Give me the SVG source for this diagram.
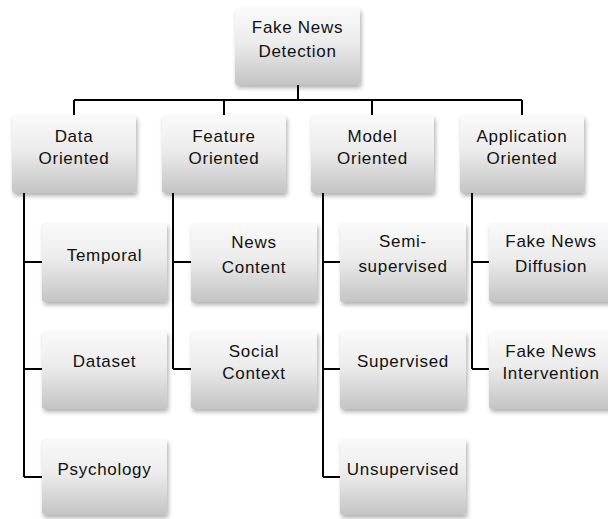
<svg xmlns="http://www.w3.org/2000/svg" width="608" height="519" viewBox="0 0 608 519">
<defs>
<linearGradient id="g" x1="0" y1="0" x2="0" y2="1">
<stop offset="0" stop-color="#fafafa"/>
<stop offset="0.45" stop-color="#ececec"/>
<stop offset="1" stop-color="#c4c4c4"/>
</linearGradient>
<filter id="sh" x="-10%" y="-10%" width="125%" height="130%">
<feDropShadow dx="1.5" dy="3" stdDeviation="2" flood-color="#000" flood-opacity="0.3"/>
</filter>
</defs>
<style>
.box{fill:url(#g);filter:url(#sh);}
text{font-family:"Liberation Sans",Arial,sans-serif;font-size:17px;letter-spacing:0.7px;fill:#111;text-anchor:middle;}
.c{fill:none;stroke:#000;stroke-width:2;}
</style>
<rect width="608" height="519" fill="#fff"/>
<g id="connectors">
<path class="c" d="M298,85V100M74,100H522M74,100V115M224,100V115M372,100V115M522,100V115"/>
<path class="c" d="M24,193V477M24,262H42M24,369H42M24,477H42"/>
<path class="c" d="M173,193V369M173,262H191M173,369H191"/>
<path class="c" d="M323,193V477M323,262H340M323,369H340M323,477H340"/>
<path class="c" d="M472,193V369M472,262H489M472,369H489"/>
</g>
<g id="root"><rect class="box" x="235" y="8" width="125" height="77" rx="3"/><text x="297.5" y="33">Fake News</text><text x="297.5" y="57">Detection</text></g>
<g id="data"><rect class="box" x="12" y="115" width="124" height="78" rx="3"/><text x="74" y="142">Data</text><text x="74" y="164">Oriented</text></g>
<g id="feature"><rect class="box" x="162" y="115" width="124" height="78" rx="3"/><text x="224" y="142">Feature</text><text x="224" y="164">Oriented</text></g>
<g id="model"><rect class="box" x="311" y="115" width="123" height="78" rx="3"/><text x="372.5" y="142">Model</text><text x="372.5" y="164">Oriented</text></g>
<g id="application"><rect class="box" x="460" y="115" width="124" height="78" rx="3"/><text x="522" y="142">Application</text><text x="522" y="164">Oriented</text></g>
<g id="temporal"><rect class="box" x="42" y="223" width="125" height="79" rx="3"/><text x="104.5" y="261">Temporal</text></g>
<g id="dataset"><rect class="box" x="42" y="331" width="125" height="78" rx="3"/><text x="104.5" y="367">Dataset</text></g>
<g id="psychology"><rect class="box" x="42" y="439" width="125" height="76" rx="3"/><text x="104.5" y="475">Psychology</text></g>
<g id="news-content"><rect class="box" x="191" y="223" width="126" height="79" rx="3"/><text x="254" y="248">News</text><text x="254" y="273">Content</text></g>
<g id="social-context"><rect class="box" x="191" y="331" width="126" height="78" rx="3"/><text x="254" y="357">Social</text><text x="254" y="379">Context</text></g>
<g id="semi"><rect class="box" x="340" y="223" width="126" height="79" rx="3"/><text x="403" y="247">Semi-</text><text x="403" y="272">supervised</text></g>
<g id="supervised"><rect class="box" x="340" y="331" width="126" height="78" rx="3"/><text x="403" y="367">Supervised</text></g>
<g id="unsupervised"><rect class="box" x="340" y="439" width="126" height="76" rx="3"/><text x="403" y="475">Unsupervised</text></g>
<g id="diffusion"><rect class="box" x="489" y="223" width="126" height="79" rx="3"/><text x="551" y="247">Fake News</text><text x="551" y="272">Diffusion</text></g>
<g id="intervention"><rect class="box" x="489" y="331" width="126" height="78" rx="3"/><text x="551" y="357">Fake News</text><text x="551" y="379">Intervention</text></g>
</svg>
